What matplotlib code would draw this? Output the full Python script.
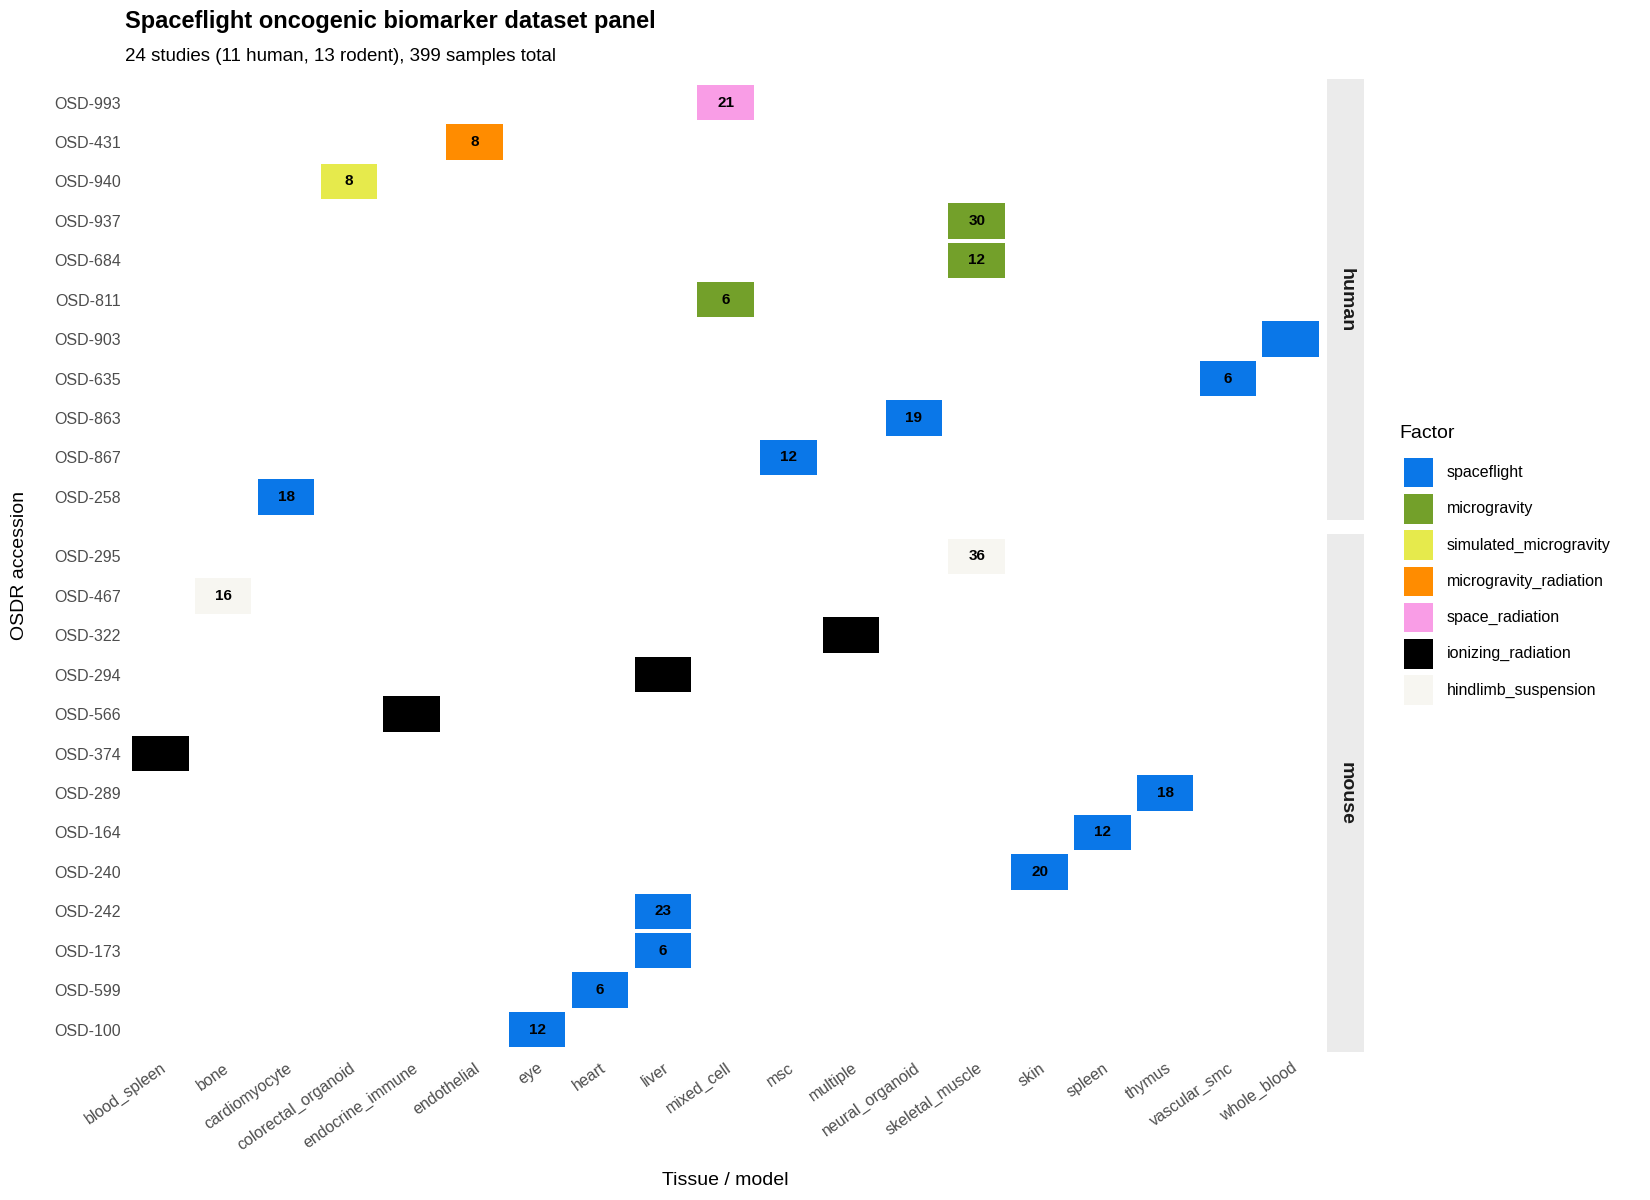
import matplotlib
matplotlib.use("Agg")
import matplotlib.pyplot as plt
from matplotlib.patches import Rectangle

tissues = ["blood_spleen","bone","cardiomyocyte","colorectal_organoid","endocrine_immune",
           "endothelial","eye","heart","liver","mixed_cell","msc","multiple","neural_organoid",
           "skeletal_muscle","skin","spleen","thymus","vascular_smc","whole_blood"]
factors = ["spaceflight","microgravity","simulated_microgravity","microgravity_radiation",
           "space_radiation","ionizing_radiation","hindlimb_suspension"]
colors = ["#0A77E8","#73A02A","#E6EA4C","#FF8C00","#F99DE6","#000000","#F7F6F1"]

human_ids = ["OSD-993","OSD-431","OSD-940","OSD-937","OSD-684","OSD-811","OSD-903","OSD-635","OSD-863","OSD-867","OSD-258"]
human_tissue = ["mixed_cell","endothelial","colorectal_organoid","skeletal_muscle","skeletal_muscle","mixed_cell","whole_blood","vascular_smc","neural_organoid","msc","cardiomyocyte"]
human_factor = ["space_radiation","microgravity_radiation","simulated_microgravity","microgravity","microgravity","microgravity","spaceflight","spaceflight","spaceflight","spaceflight","spaceflight"]
human_n = [21,8,8,30,12,6,None,6,19,12,18]

mouse_ids = ["OSD-295","OSD-467","OSD-322","OSD-294","OSD-566","OSD-374","OSD-289","OSD-164","OSD-240","OSD-242","OSD-173","OSD-599","OSD-100"]
mouse_tissue = ["skeletal_muscle","bone","multiple","liver","endocrine_immune","blood_spleen","thymus","spleen","skin","liver","liver","heart","eye"]
mouse_factor = ["hindlimb_suspension","hindlimb_suspension","ionizing_radiation","ionizing_radiation","ionizing_radiation","ionizing_radiation","spaceflight","spaceflight","spaceflight","spaceflight","spaceflight","spaceflight","spaceflight"]
mouse_n = [36,16,None,None,None,None,18,12,20,23,6,6,12]

W, H = 1560, 1135
fig = plt.figure(figsize=(16.5, 12), dpi=100)
plt.rcParams['font.family'] = ['Liberation Sans', 'DejaVu Sans']
cmap = dict(zip(factors, colors))

def panel(top, bottom, ids, tis, fac, ns, label, show_x):
    ax = fig.add_axes([122/W, 1-bottom/H, 1128/W, (bottom-top)/H])
    n = len(ids)
    for i, (t, f, v) in enumerate(zip(tis, fac, ns)):
        y = n-1-i
        x = tissues.index(t)
        ax.add_patch(Rectangle((x-0.45, y-0.45), 0.9, 0.9, facecolor=cmap[f], edgecolor='none'))
        if v is not None:
            ax.text(x, y, str(v), ha='center', va='center', fontsize=11, fontweight='bold', color='black')
    pad = ((bottom-top)/37.3 - n)/2
    ax.set_ylim(-0.5-pad, n-0.5+pad)
    ax.set_xlim(-0.5, len(tissues)-0.5)
    ax.set_yticks(range(n))
    ax.set_yticklabels(ids[::-1], fontsize=11.5, color='#4d4d4d')
    ax.set_xticks(range(len(tissues)))
    if show_x:
        ax.set_xticklabels(tissues, rotation=35, ha='right', rotation_mode='anchor', fontsize=11.5, color='#4d4d4d')
    else:
        ax.set_xticklabels([])
    ax.tick_params(length=0, pad=6)
    for s in ax.spines.values():
        s.set_visible(False)
    sax = fig.add_axes([1255/W, 1-bottom/H, 35/W, (bottom-top)/H])
    sax.set_facecolor('#EBEBEB')
    sax.set_xticks([]); sax.set_yticks([])
    for s in sax.spines.values():
        s.set_visible(False)
    sax.text(0.5, 0.5, label, rotation=-90, ha='center', va='center', fontsize=14, fontweight='bold', color='#1a1a1a', transform=sax.transAxes)
    return ax

panel(75, 492, human_ids, human_tissue, human_factor, human_n, "human", False)
panel(505, 995, mouse_ids, mouse_tissue, mouse_factor, mouse_n, "mouse", True)

fig.text(118/W, 1-20/H, "Spaceflight oncogenic biomarker dataset panel", fontsize=17, fontweight='bold', va='center')
fig.text(118/W, 1-53/H, "24 studies (11 human, 13 rodent), 399 samples total", fontsize=13.5, va='center')
fig.text(686/W, 1-1117/H, "Tissue / model", fontsize=14, ha='center', va='center')
fig.text(18/W, 1-535/H, "OSDR accession", fontsize=14, rotation=90, ha='center', va='center')

fig.text(1323/W, 1-410/H, "Factor", fontsize=14, va='center')
for i, (f, c) in enumerate(zip(factors, colors)):
    yc = 447 + i*34.3
    fig.patches.append(Rectangle((1327/W, 1-(yc+14)/H), 28/W, 28/H, facecolor=c, edgecolor='none', transform=fig.transFigure, figure=fig))
    fig.text(1368/W, 1-yc/H, f, fontsize=11.5, va='center')

fig.savefig("out.png", dpi=100, facecolor='white')
